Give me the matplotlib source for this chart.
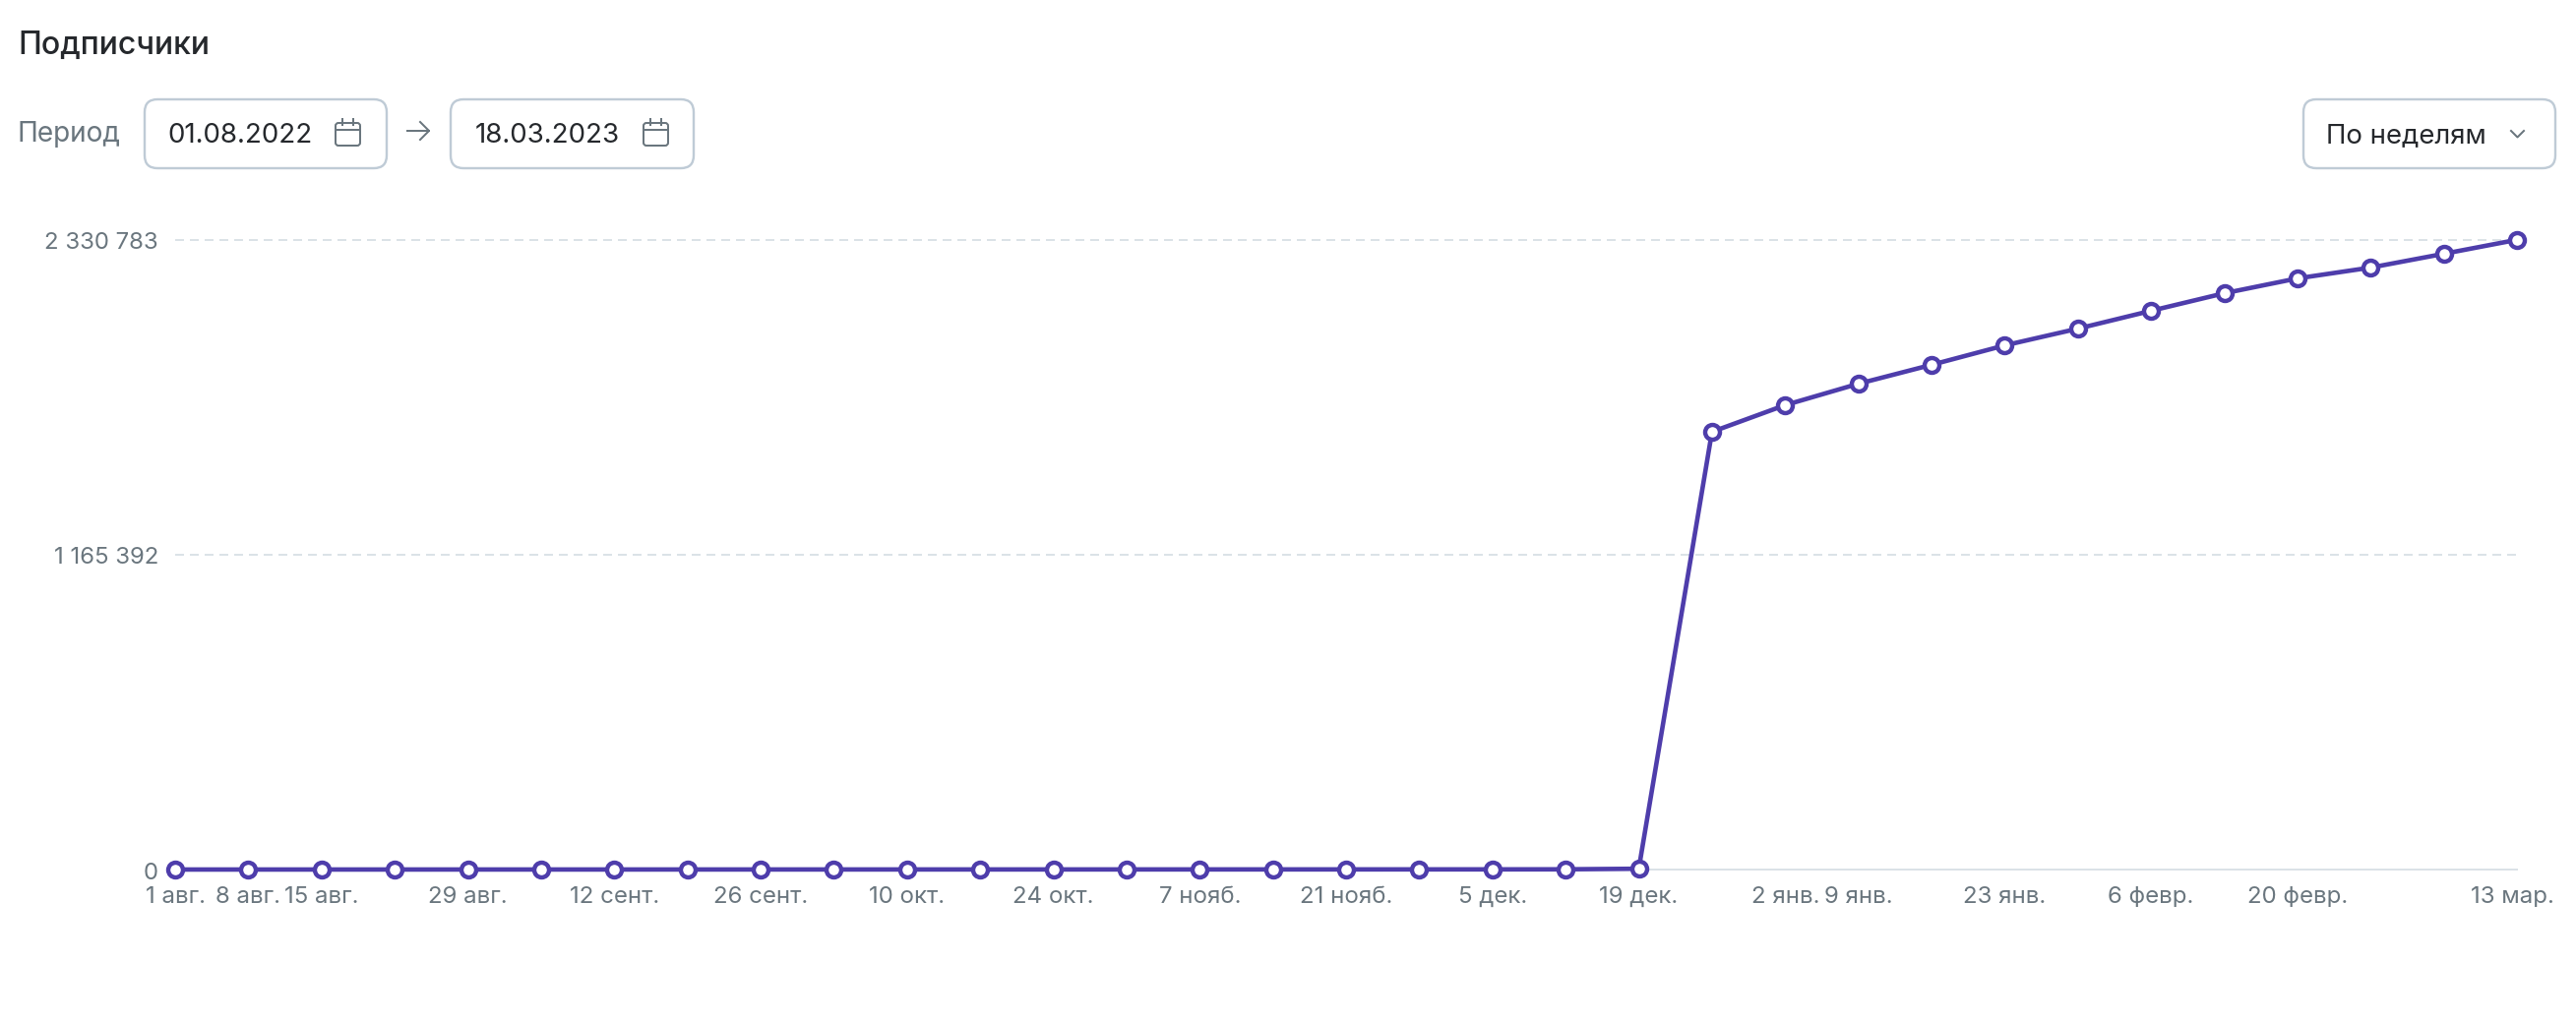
import matplotlib
matplotlib.use("Agg")
import matplotlib.pyplot as plt
from matplotlib.patches import FancyBboxPatch
from matplotlib.transforms import ScaledTranslation

plt.rcParams['font.family'] = ['Inter', 'DejaVu Sans']

W, H = 2618, 1040
PX = 72 / 100  # points per pixel at dpi 100

week_labels = ['1 авг.', '8 авг.', '15 авг.', '', '29 авг.', '', '12 сент.', '', '26 сент.', '',
               '10 окт.', '', '24 окт.', '', '7 нояб.', '', '21 нояб.', '', '5 дек.', '',
               '19 дек.', '', '2 янв.', '9 янв.', '', '23 янв.', '', '6 февр.', '', '20 февр.',
               '', '', '13 мар.']
subscribers = [120, 130, 150, 170, 190, 210, 230, 260, 290, 320,
               350, 380, 410, 450, 490, 530, 570, 620, 680, 900,
               3000, 1620000, 1719000, 1798000, 1868000, 1940000, 2002000, 2068000,
               2133000, 2188000, 2228000, 2279000, 2330783]
y_ticks = [0, 1165392, 2330783]
y_tick_labels = ['0', '1 165 392', '2 330 783']

title = 'Подписчики'
period_label = 'Период'
date_from = '01.08.2022'
date_to = '18.03.2023'
granularity = 'По неделям'

LINE = '#4E3DAB'
GRID = '#DBE2E7'
MUTED = '#6A767E'
DARK = '#25282C'
BORDER = '#BFCBD6'

fig = plt.figure(figsize=(W / 100, H / 100), dpi=100, facecolor='white')

# --- interface chrome, in pixel coordinates
ui = fig.add_axes([0, 0, 1, 1], zorder=0)
ui.set_xlim(0, W)
ui.set_ylim(H, 0)
ui.axis('off')


def box(x0, x1, y0=101, y1=171, r=13):
    ui.add_patch(FancyBboxPatch((x0 + r, y0 + r), x1 - x0 - 2 * r, y1 - y0 - 2 * r,
                                boxstyle=f'round,pad={r},rounding_size={r}',
                                fc='white', ec=BORDER, lw=2.4 * PX))


def calendar(x0, y0=125, y1=148):
    x1 = x0 + 25
    ui.add_patch(FancyBboxPatch((x0 + 3, y0 + 3), x1 - x0 - 6, y1 - y0 - 6,
                                boxstyle='round,pad=3,rounding_size=3',
                                fc='none', ec=MUTED, lw=2 * PX))
    ui.plot([x0, x1], [132, 132], color=MUTED, lw=2 * PX)
    for xt in (x0 + 7, x1 - 7):
        ui.plot([xt, xt], [121, 127], color=MUTED, lw=2 * PX)


ui.text(18, 46, title, fontsize=32 * PX, color=DARK, va='center', ha='left', fontweight='medium')
ui.text(18, 136, period_label, fontsize=28 * PX, color=MUTED, va='center', ha='left')
box(147, 393)
box(458, 705)
box(2341, 2597)
ui.text(170, 138, date_from, fontsize=27.7 * PX, color=DARK, va='center', ha='left')
ui.text(483, 138, date_to, fontsize=27.7 * PX, color=DARK, va='center', ha='left')
ui.text(2364, 138, granularity, fontsize=27.6 * PX, color=DARK, va='center', ha='left')
calendar(341)
calendar(654)
# arrow between the dates
ui.plot([414, 436], [133, 133], color=MUTED, lw=2 * PX)
ui.plot([427, 436, 427], [124, 133, 142], color=MUTED, lw=2 * PX)
# dropdown chevron
ui.plot([2552, 2558.5, 2565], [133, 139.5, 133], color=MUTED, lw=2 * PX)

# --- chart
L, R, TOP, BOT = 178, 2558, 243.8, 884
ax = fig.add_axes([L / W, 1 - BOT / H, (R - L) / W, (BOT - TOP) / H], zorder=1)
ax.patch.set_alpha(0)
x = list(range(len(subscribers)))
ax.set_xlim(0, len(subscribers) - 1)
ax.set_ylim(0, y_ticks[-1])
for s in ('top', 'right', 'left'):
    ax.spines[s].set_visible(False)
ax.spines['bottom'].set_color(GRID)
ax.spines['bottom'].set_linewidth(2 * PX)

for v in y_ticks[1:]:
    ax.plot([0, x[-1]], [v, v], color=GRID, lw=2 * PX, dashes=(4.5, 3), zorder=1, clip_on=False)

ax.plot(x, subscribers, color=LINE, lw=4.6 * PX, marker='o', ms=15 * PX, mew=4.4 * PX,
        mfc='white', mec=LINE, clip_on=False, zorder=3)

ax.set_yticks(y_ticks)
ax.set_yticklabels(y_tick_labels, fontsize=24 * PX, color=MUTED)
ax.set_xticks(x)
ax.set_xticklabels(week_labels, fontsize=24 * PX, color=MUTED)
ax.tick_params(axis='both', length=0)
ax.tick_params(axis='y', pad=17 * PX)
ax.tick_params(axis='x', pad=17 * PX)

# the last date label sits a little inside the plot edge; y labels sit 1 px lower
lab = ax.get_xticklabels()[-1]
lab.set_transform(lab.get_transform() + ScaledTranslation(-5 / 100, 0, fig.dpi_scale_trans))
for lab in ax.get_yticklabels():
    lab.set_transform(lab.get_transform() + ScaledTranslation(0, -1 / 100, fig.dpi_scale_trans))

fig.savefig('out.png', dpi=100, facecolor='white')
